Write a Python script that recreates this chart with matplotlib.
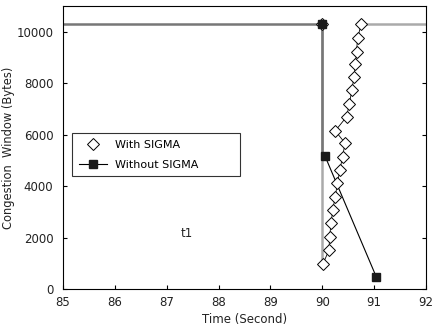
import matplotlib.pyplot as plt

# congestion window samples (time in s, cwnd in bytes)
with_t = [90.00, 90.01, 90.13, 90.14, 90.17, 90.20, 90.25, 90.29, 90.34, 90.39,
          90.44, 90.25, 90.47, 90.52, 90.57, 90.61, 90.64, 90.66, 90.68, 90.75]
with_w = [10300, 970, 1520, 2040, 2560, 3070, 3590, 4110, 4630, 5150,
          5670, 6150, 6700, 7200, 7720, 8240, 8750, 9230, 9750, 10300]

without_t = [90.00, 90.05, 91.04]
without_w = [10300, 5180, 480]

wmax = 10300
t_start, t_end = 85, 92

fig = plt.figure(figsize=(4.41, 3.35), dpi=100)
ax = fig.add_axes([0.143, 0.137, 0.823, 0.845])

# flat window before the loss and after recovery
ax.plot([t_start, with_t[0]], [wmax, wmax], color='#777777', lw=1.8, zorder=1)
ax.plot([with_t[0], with_t[0]], [wmax, with_w[1]], color='#aaaaaa', lw=1.8, zorder=1)
ax.plot([without_t[0], without_t[0]], [wmax, without_w[1]], color='#777777', lw=1.8, zorder=1)
ax.plot([with_t[-1], t_end], [wmax, wmax], color='#aaaaaa', lw=1.8, zorder=1)

ax.plot(with_t[1:], with_w[1:], color='black', lw=0.6, zorder=2)
ax.plot(with_t, with_w, ls='none', marker='D', ms=6, mfc='white', mec='black',
        mew=0.7, zorder=3, label='With SIGMA')
ax.plot(without_t[1:], without_w[1:], color='black', lw=0.8, zorder=2)
ax.plot(without_t, without_w, ls='none', marker='s', ms=6, color='#1a1a1a', zorder=4)
# legend handle for the line+square series
ax.plot([], [], color='black', lw=0.8, marker='s', ms=6, mfc='#1a1a1a', mec='#1a1a1a',
        label='Without SIGMA')

ax.text(87.39, 2180, 't1', fontsize=8.5, ha='center', va='center', color='#222222')

ax.set_xlim(t_start, t_end)
ax.set_ylim(0, 11000)
ax.set_xticks(range(85, 93))
ax.set_yticks(range(0, 10001, 2000))
ax.tick_params(direction='in', length=3, labelsize=8.5, right=True, labelcolor='#222222')
ax.tick_params(axis='y', pad=7)
ax.tick_params(axis='x', pad=5)
ax.set_xlabel('Time (Second)', fontsize=8.5, color='#222222', labelpad=3)
ax.set_ylabel('Congestion  Window (Bytes)', fontsize=8.3, color='#222222', labelpad=1)

leg = ax.legend(loc='upper left', bbox_to_anchor=(0.025, 0.392, 0.463, 0.159),
                mode='expand', fontsize=8, frameon=True, fancybox=False,
                edgecolor='black', handlelength=2.5, borderpad=0.6, labelspacing=0.9,
                borderaxespad=0)
leg.get_frame().set_linewidth(0.8)

fig.savefig('out.png', dpi=100)
